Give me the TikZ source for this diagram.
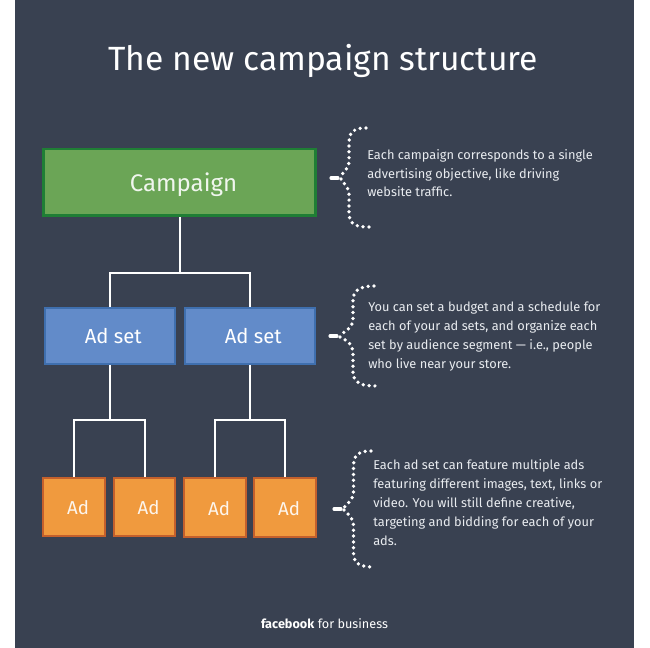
\documentclass[tikz,border=0pt]{standalone}
\usepackage{fontspec}
\setmainfont{Fira Sans}
\definecolor{bgc}{HTML}{394151}
\definecolor{gfill}{HTML}{6BA556}
\definecolor{gline}{HTML}{1F7E35}
\definecolor{bfill}{HTML}{628BC9}
\definecolor{bline}{HTML}{3F6FAE}
\definecolor{ofill}{HTML}{F09A3E}
\definecolor{oline}{HTML}{C4602C}
\definecolor{txt}{HTML}{E9ECF0}
\newcommand{\boxtext}[3]{\hspace*{#1}\raisebox{#2}[\height][\depth]{#3}}
\tikzset{
 x=0.75pt,y=-0.75pt,
 campbox/.style={draw=gline,fill=gfill,line width=2pt,minimum width=204pt,minimum height=50pt,inner sep=0pt,text=white!90!gfill,font=\fontsize{18}{20}\selectfont},
 setbox/.style={draw=bline,fill=bfill,line width=1.2pt,minimum width=97.5pt,minimum height=42pt,inner sep=0pt,text=white,font=\fontsize{15.2}{18}\selectfont},
 adbox/.style={draw=oline,fill=ofill,line width=1.6pt,minimum width=46pt,minimum height=44pt,inner sep=0pt,text=white!90!ofill,font=\fontsize{14}{16}\selectfont},
 wire/.style={draw=white,line width=1.5pt},
 note/.style={anchor=north west,align=left,inner sep=0pt,text=txt,font=\fontsize{9.6}{14.15}\selectfont},
 dots/.style={draw=white,line width=2.8pt,line cap=round,dash pattern=on 0pt off 4.4pt},
 tipdash/.style={draw=white,line width=2.3pt,line cap=round},
}
\newcommand{\dotbrace}[7]{% xend-top, ytop, xspine, xtip, ytip, ybottom, xend-bottom
 \draw[dots] (#1,#2) .. controls (#1-9,#2) and (#3,#2+2) .. (#3,#2+14) -- (#3,#5-17)
   .. controls (#3,#5-8) and (#3-9,#5-4) .. (#4+10,#5-1);
 \draw[dots] (#4+10,#5+1) .. controls (#3-9,#5+3) and (#3,#5+7) .. (#3,#5+17) -- (#3,#6-14)
   .. controls (#3,#6-2) and (#7-12,#6) .. (#7,#6);
 \draw[tipdash] (#4,#5) -- (#4+7,#5);
}
\begin{document}
\begin{tikzpicture}
\useasboundingbox (0,0) rectangle (650,648);
\fill[white] (0,0) rectangle (650,648);
\fill[bgc] (15,0) rectangle (634,648);
\node[text=white,font=\fontsize{25.2}{28}\selectfont] (title) at (323,60.5) {The new campaign structure};

\node[campbox] (camp) at (179.5,182.5) {\boxtext{6pt}{-1.5pt}{Campaign}};
\node[setbox] (set1) at (110,336) {\boxtext{5pt}{0pt}{Ad set}};
\node[setbox] (set2) at (250,336) {\boxtext{5pt}{0pt}{Ad set}};
\node[adbox] (ad1) at (74,507) {\boxtext{6pt}{-0.7pt}{Ad}};
\node[adbox] (ad2) at (144.5,507) {\boxtext{6pt}{-0.7pt}{Ad}};
\node[adbox] (ad3) at (215,507.5) {\boxtext{6pt}{-0.7pt}{Ad}};
\node[adbox] (ad4) at (285,507.5) {\boxtext{6pt}{-0.7pt}{Ad}};

\coordinate (j0) at (179.5,273);
\coordinate (j1) at (110,420);
\coordinate (j2) at (250,420);
\draw[wire] (camp.south) -- (j0);
\draw[wire] (set1.north) |- (j0) -| (set2.north);
\draw[wire] (set1.south) -- (j1);
\draw[wire] (ad1.north) |- (j1) -| (ad2.north);
\draw[wire] (set2.south) -- (j2);
\draw[wire] (ad3.north) |- (j2) -| (ad4.north);

\dotbrace{366}{128}{349}{331}{178}{227}{369}
\dotbrace{374}{286}{353}{330}{336}{386}{376}
\dotbrace{371}{451}{353.5}{334}{509}{567}{374}

\node[note] (n1) at (367,149) {Each campaign corresponds to a single\\advertising objective, like driving\\website traffic.};
\node[note] (n2) at (368,302) {You can set a budget and a schedule for\\each of your ad sets, and organize each\\set by audience segment — i.e., people\\who live near your store.};
\node[note] (n3) at (373,459.5) {Each ad set can feature multiple ads\\featuring different images, text, links or\\video. You will still define creative,\\targeting and bidding for each of your\\ads.};

\node[text=white,font=\fontsize{9.5}{12}\selectfont] (brand) at (324.5,624) {\textbf{facebook} for business};
\end{tikzpicture}
\end{document}
